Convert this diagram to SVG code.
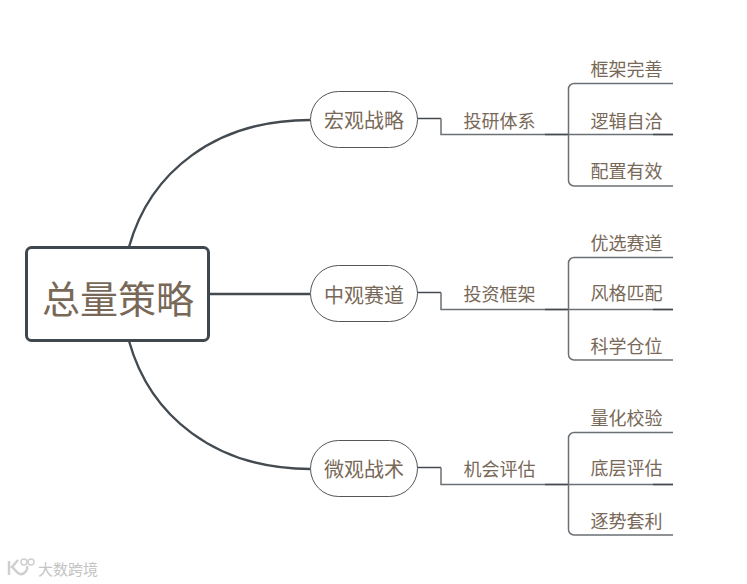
<svg xmlns="http://www.w3.org/2000/svg" width="747" height="584" viewBox="0 0 747 584">
<style>
text{font-family:"Noto Sans CJK SC","Liberation Sans",sans-serif;fill:#786858;text-anchor:middle;dominant-baseline:central}
.main{fill:none;stroke:#434a50;stroke-width:2.4}
.sub{fill:none;stroke:#6b7074;stroke-width:1.5}
.dark{fill:none;stroke:#45494d;stroke-width:1.5}
.pill{fill:#fff;stroke:#555;stroke-width:1}
.b{font-size:20px}.l{font-size:18px}
</style>
<rect width="747" height="584" fill="#fff"/>
<g id="connectors">
<path class="main" d="M129 247C150 172 215 120 310 120"/>
<path class="main" d="M210 294H310"/>
<path class="main" d="M129 341C150 416 215 469 310 469"/>
<g id="c1"><path class="dark" d="M417 118.500H441"/><path class="sub" d="M441 118.500V134.500H673"/><path class="dark" d="M545 134.500H568M653 134.500H673"/><path class="sub" d="M673 83.500H574a5.500 5.500 0 0 0-5.500 5.500V180.500a5.500 5.500 0 0 0 5.500 5.500H673"/></g>
<g id="c2"><path class="dark" d="M417 292.500H441"/><path class="sub" d="M441 292.500V309.500H673"/><path class="dark" d="M545 309.500H568M653 309.500H673"/><path class="sub" d="M673 257.500H574a5.500 5.500 0 0 0-5.500 5.500V354.500a5.500 5.500 0 0 0 5.500 5.500H673"/></g>
<g id="c3"><path class="dark" d="M417 467.500H441"/><path class="sub" d="M441 467.500V484.500H673"/><path class="dark" d="M545 484.500H568M653 484.500H673"/><path class="sub" d="M673 432.500H574a5.500 5.500 0 0 0-5.500 5.500V529.500a5.500 5.500 0 0 0 5.500 5.500H673"/></g>
</g>
<g id="root"><rect x="26.500" y="247.500" width="182" height="93" rx="5" fill="#fff" stroke="#3f474f" stroke-width="3"/><text x="118" y="296" font-size="38">总量策略</text></g>
<g id="n1"><rect class="pill" x="310.500" y="91.500" width="107" height="56" rx="28"/><text class="b" x="364" y="119.500">宏观战略</text></g>
<g id="n2"><rect class="pill" x="310.500" y="265.500" width="107" height="56" rx="28"/><text class="b" x="364" y="294">中观赛道</text></g>
<g id="n3"><rect class="pill" x="310.500" y="440.500" width="107" height="56" rx="28"/><text class="b" x="364" y="468.500">微观战术</text></g>
<g id="l1"><text class="l" x="499.500" y="119.500">投研体系</text></g>
<g id="l2"><text class="l" x="499.500" y="292.500">投资框架</text></g>
<g id="l3"><text class="l" x="499.500" y="467.500">机会评估</text></g>
<g id="a1"><text class="l" x="626.500" y="67.500">框架完善</text></g>
<g id="a2"><text class="l" x="626.500" y="119.500">逻辑自洽</text></g>
<g id="a3"><text class="l" x="626.500" y="170">配置有效</text></g>
<g id="b1"><text class="l" x="626.500" y="241.500">优选赛道</text></g>
<g id="b2"><text class="l" x="626.500" y="292">风格匹配</text></g>
<g id="b3"><text class="l" x="626.500" y="344.500">科学仓位</text></g>
<g id="c1n"><text class="l" x="626.500" y="416.500">量化校验</text></g>
<g id="c2n"><text class="l" x="626.500" y="467">底层评估</text></g>
<g id="c3n"><text class="l" x="626.500" y="519.500">逐势套利</text></g>
<g id="watermark">
<path d="M9 561V575M18 560L12 567C15 569 16 573 20 574C25 575 28 569 27 566" fill="none" stroke="#cfcfcf" stroke-width="2.500"/>
<circle cx="24" cy="562" r="3" fill="none" stroke="#cfcfcf" stroke-width="1.500"/>
<circle cx="31" cy="562" r="3" fill="none" stroke="#cfcfcf" stroke-width="1.500"/>
<text x="68" y="568" font-size="15" style="fill:#c4c4c4">大数跨境</text>
</g>
</svg>
